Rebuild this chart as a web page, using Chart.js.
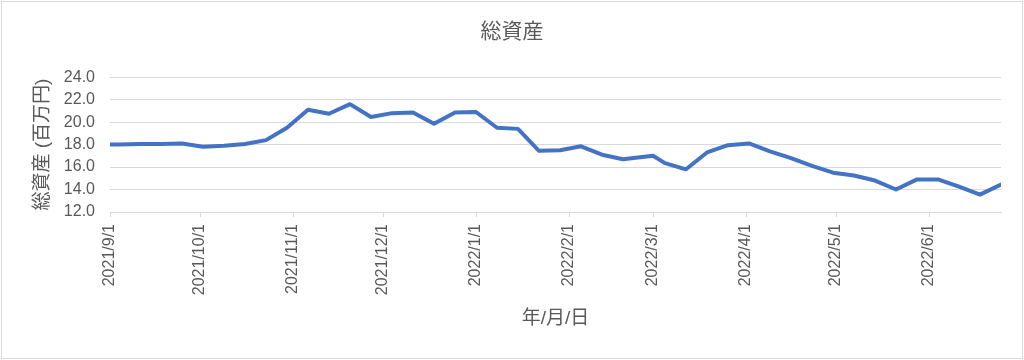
<!DOCTYPE html>
<html>
<head>
<meta charset="utf-8">
<script src="https://cdn.jsdelivr.net/npm/chart.js@4.4.0/dist/chart.umd.min.js"></script>
<style>
  html, body { margin: 0; padding: 0; background: #fff; }
</style>
</head>
<body>
<canvas id="chart" width="1024" height="360"></canvas>
<script>
const dates = [
  '2021/9/1', '2021/9/4', '2021/9/11', '2021/9/18', '2021/9/25',
  '2021/10/2', '2021/10/9', '2021/10/16', '2021/10/23', '2021/10/30',
  '2021/11/6', '2021/11/13', '2021/11/20', '2021/11/27',
  '2021/12/4', '2021/12/11', '2021/12/18', '2021/12/25',
  '2022/1/1', '2022/1/8', '2022/1/15', '2022/1/22', '2022/1/29',
  '2022/2/5', '2022/2/12', '2022/2/19',
  '2022/3/1', '2022/3/5', '2022/3/12', '2022/3/19', '2022/3/26',
  '2022/4/2', '2022/4/9', '2022/4/16', '2022/4/23', '2022/4/30',
  '2022/5/7', '2022/5/14', '2022/5/21', '2022/5/28',
  '2022/6/4', '2022/6/11', '2022/6/18', '2022/6/25'
]
const assets = [
  18.0, 18.0, 18.05, 18.05, 18.1,
  17.8, 17.9, 18.05, 18.4, 19.5,
  21.1, 20.75, 21.6, 20.45,
  20.8, 20.85, 19.85, 20.85,
  20.9, 19.5, 19.4, 17.45, 17.5,
  17.85, 17.1, 16.7,
  17.0, 16.35, 15.8, 17.3, 17.95,
  18.1, 17.4, 16.8, 16.1, 15.5,
  15.25, 14.8, 14.0, 14.9,
  14.9, 14.25, 13.55, 14.45
]
const tickDates = [
  '2021/9/1', '2021/10/1', '2021/11/1', '2021/12/1', '2022/1/1',
  '2022/2/1', '2022/3/1', '2022/4/1', '2022/5/1', '2022/6/1'
]
const yTicks = [12, 14, 16, 18, 20, 22, 24]

const chartTitle = '総資産'
const yTitle = '総資産 (百万円)'
const xTitle = '年/月/日'

// days since the first date, so the x axis is a real date axis
const toDay = s => {
  const [y, m, d] = s.split('/').map(Number)
  return Math.round((Date.UTC(y, m - 1, d) - Date.UTC(2021, 8, 1)) / 86400000)
}

const gray = '#595959'
const gridColor = '#d9d9d9'
Chart.defaults.font.family = "'Liberation Sans', 'Noto Sans CJK JP', sans-serif"

const frame = {
  id: 'frame',
  beforeDraw(chart) {
    const ctx = chart.ctx
    ctx.save()
    ctx.fillStyle = '#fff'
    ctx.fillRect(0, 0, chart.width, chart.height)
    ctx.strokeStyle = gridColor
    ctx.lineWidth = 1
    ctx.strokeRect(1.5, 1.5, chart.width - 3, chart.height - 3)
    ctx.restore()
  }
}

new Chart(document.getElementById('chart'), {
  type: 'line',
  data: {
    datasets: [{
      label: chartTitle,
      data: dates.map((d, i) => ({x: toDay(d), y: assets[i]})),
      borderColor: '#4472C4',
      borderWidth: 4,
      borderJoinStyle: 'round',
      borderCapStyle: 'round',
      pointRadius: 0,
      tension: 0
    }]
  },
  options: {
    responsive: false,
    animation: false,
    devicePixelRatio: 1,
    layout: {padding: 0},
    plugins: {
      legend: {display: false},
      tooltip: {enabled: false},
      title: {
        display: true,
        text: chartTitle,
        color: gray,
        font: {size: 21, weight: 'normal'},
        padding: {top: 20, bottom: 32}
      }
    },
    scales: {
      x: {
        type: 'linear',
        min: toDay(dates[0]),
        max: toDay(dates[dates.length - 1]),
        afterBuildTicks: s => { s.ticks = tickDates.map(d => ({value: toDay(d)})) },
        afterFit: s => { s.height = 148 },
        grid: {drawOnChartArea: false, color: gridColor, tickLength: 5},
        border: {color: gridColor},
        ticks: {
          autoSkip: false,
          minRotation: 90,
          maxRotation: 90,
          padding: 7,
          color: gray,
          font: {size: 16},
          callback: (v, i) => tickDates[i]
        },
        title: {
          display: true,
          text: xTitle,
          color: gray,
          font: {size: 19},
          padding: {top: 0, bottom: 30}
        }
      },
      y: {
        min: yTicks[0],
        max: yTicks[yTicks.length - 1],
        afterBuildTicks: s => { s.ticks = yTicks.map(v => ({value: v})) },
        afterFit: s => { s.width = 110 },
        grid: {color: gridColor, drawTicks: false},
        border: {display: false},
        ticks: {
          padding: 15,
          color: gray,
          font: {size: 16},
          callback: v => v.toFixed(1)
        },
        title: {
          display: true,
          text: yTitle,
          color: gray,
          font: {size: 19},
          padding: {top: 31, bottom: 0}
        }
      },
      // empty right-hand box so the title stays centred on the whole frame
      spacer: {
        position: 'right',
        display: true,
        afterFit: s => { s.width = 23 },
        grid: {display: false},
        border: {display: false},
        ticks: {display: false}
      }
    }
  },
  plugins: [frame]
})
</script>
</body>
</html>
